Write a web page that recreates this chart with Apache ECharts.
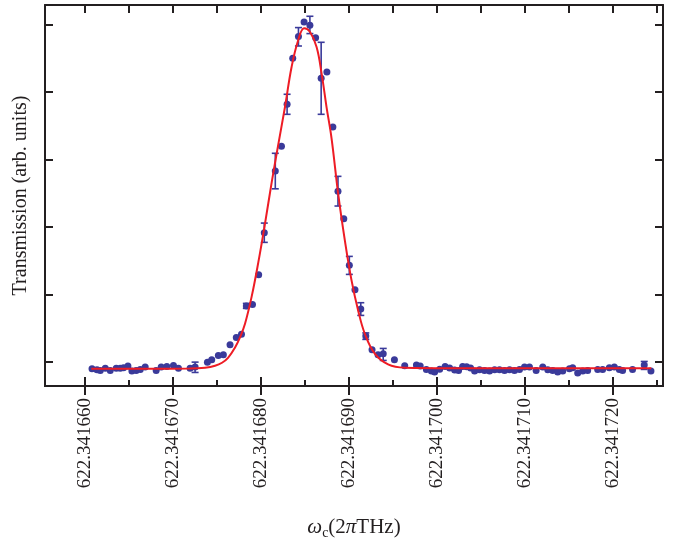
<!DOCTYPE html>
<html lang="en">
<head>
<meta charset="utf-8">
<script src="https://cdn.jsdelivr.net/npm/echarts@6.0.0/dist/echarts.min.js"></script>
<style>
  html, body { margin: 0; padding: 0; background: #fff; }
  #main { width: 674px; height: 548px; }
</style>
</head>
<body>
<div id="main"></div>
<script>
// x = digits after "622.341" (660 -> 622.341660), y = arb. units
var pointX = [660.84, 661.41, 661.78, 662.35, 662.91, 663.59, 664.05, 664.42, 664.92, 665.37,
    665.86, 666.32, 666.88, 668.13, 668.70, 669.34, 670.09, 670.66, 671.98, 672.55,
    673.95, 674.44, 675.19, 675.76, 676.52, 677.23, 677.82, 678.37, 679.07, 679.77,
    680.41, 681.66, 682.36, 683.00, 683.64, 684.29, 684.93, 685.59, 686.24, 686.87,
    687.52, 688.20, 688.78, 689.44, 690.07, 690.71, 691.37, 691.94, 692.65, 693.33,
    693.92, 695.19, 696.36, 697.69, 698.12, 698.82, 699.39, 699.76, 700.33, 700.95,
    701.46, 702.03, 702.48, 702.94, 703.39, 703.84, 704.30, 704.86, 705.43, 706.00,
    706.57, 707.13, 707.70, 708.27, 708.83, 709.40, 709.97, 710.53, 711.29, 712.04,
    712.61, 713.17, 713.74, 714.31, 715.07, 715.44, 716.01, 716.58, 717.14, 718.28,
    718.84, 719.60, 720.17, 720.74, 721.11, 722.24, 723.57, 724.33];
var pointY = [-0.104, -0.119, -0.129, -0.095, -0.129, -0.095, -0.095, -0.089, -0.065, -0.139,
    -0.129, -0.114, -0.080, -0.129, -0.080, -0.070, -0.055, -0.095, -0.095, -0.080,
    -0.006, 0.030, 0.093, 0.104, 0.252, 0.361, 0.409, 0.828, 0.847, 1.291,
    1.911, 2.828, 3.197, 3.818, 4.500, 4.822, 5.039, 4.990, 4.804, 4.203,
    4.295, 3.481, 2.527, 2.122, 1.429, 1.068, 0.783, 0.380, 0.178, 0.105,
    0.119, 0.030, -0.059, -0.047, -0.065, -0.114, -0.139, -0.154, -0.110, -0.070,
    -0.092, -0.122, -0.129, -0.070, -0.073, -0.092, -0.136, -0.119, -0.129, -0.139,
    -0.119, -0.119, -0.129, -0.119, -0.129, -0.114, -0.080, -0.080, -0.129, -0.080,
    -0.119, -0.129, -0.154, -0.139, -0.104, -0.089, -0.169, -0.139, -0.129, -0.114,
    -0.114, -0.089, -0.080, -0.114, -0.129, -0.114, -0.047, -0.139];

// error bars
var errX    = [672.55, 678.37, 680.41, 681.66, 683.00, 684.29, 685.59, 686.87, 688.78, 690.07, 691.37, 691.94, 693.92, 723.57];
var errLow  = [-0.159, 0.791, 1.770, 2.564, 3.669, 4.682, 4.866, 3.669, 2.309, 1.295, 0.687, 0.331, 0.019, -0.114];
var errHigh = [-0.006, 0.865, 2.056, 3.091, 3.966, 4.955, 5.123, 4.737, 2.749, 1.562, 0.875, 0.427, 0.197, 0.004];

// fitted curve
var fitX = [660.76, 667.45, 671.98, 673.68, 674.82, 675.61, 676.29, 677.09, 677.65, 678.22,
    678.98, 679.73, 680.49, 681.25, 681.96, 682.76, 683.51, 684.26, 684.94, 685.59,
    686.35, 686.92, 687.48, 688.05, 688.80, 689.56, 690.32, 691.07, 691.83, 692.96,
    694.47, 696.36, 701.46, 724.37];
var fitY = [-0.104, -0.104, -0.101, -0.088, -0.059, -0.015, 0.056, 0.212, 0.361, 0.564,
    0.969, 1.473, 2.047, 2.660, 3.194, 3.777, 4.371, 4.767, 4.945, 4.893,
    4.668, 4.273, 3.777, 3.313, 2.493, 1.800, 1.206, 0.761, 0.415, 0.119,
    -0.040, -0.089, -0.096, -0.096];

var xMajor = [660, 670, 680, 690, 700, 710, 720];
var xMinor = [665, 675, 685, 695, 705, 715, 725];
var xAll = [660, 665, 670, 675, 680, 685, 690, 695, 700, 705, 710, 715, 720, 725];
var yTicks = [0, 1, 2, 3, 4, 5];

var axisColor = '#231f20';
var dotColor = '#3a3a9a';
var serif = 'Liberation Serif';

function zip(a, b) {
    var out = [];
    for (var i = 0; i < a.length; i++) out.push([a[i], b[i]]);
    return out;
}
var errData = [];
for (var i = 0; i < errX.length; i++) errData.push([errX[i], errLow[i], errHigh[i]]);

function xAxisBase(extra) {
    var a = {
        type: 'value', min: 655.5, max: 725.7, position: 'bottom',
        splitLine: { show: false },
        axisLine: { show: true, onZero: false, lineStyle: { color: axisColor, width: 2 } },
        axisLabel: { show: false },
        axisTick: { show: false }
    };
    for (var k in extra) a[k] = extra[k];
    return a;
}
function yAxisBase(extra) {
    var a = {
        type: 'value', min: -0.36, max: 5.29,
        splitLine: { show: false },
        axisLine: { show: true, onZero: false, lineStyle: { color: axisColor, width: 2 } },
        axisLabel: { show: false },
        axisTick: { show: true, inside: true, length: 8, customValues: yTicks,
            lineStyle: { color: axisColor, width: 2 } }
    };
    for (var k in extra) a[k] = extra[k];
    return a;
}

function renderErr(params, api) {
    var x = api.value(0);
    var p1 = api.coord([x, api.value(2)]);
    var p2 = api.coord([x, api.value(1)]);
    var w = 3.5;
    var st = { stroke: dotColor, lineWidth: 1.6 };
    return {
        type: 'group',
        children: [
            { type: 'line', shape: { x1: p1[0], y1: p1[1], x2: p2[0], y2: p2[1] }, style: st },
            { type: 'line', shape: { x1: p1[0] - w, y1: p1[1], x2: p1[0] + w, y2: p1[1] }, style: st },
            { type: 'line', shape: { x1: p2[0] - w, y1: p2[1], x2: p2[0] + w, y2: p2[1] }, style: st }
        ]
    };
}

var myChart = echarts.init(document.getElementById('main'));
myChart.setOption({
    animation: false,
    backgroundColor: '#fff',
    grid: { left: 45, top: 5, width: 618, height: 381, containLabel: false, outerBoundsMode: 'none' },
    xAxis: [
        xAxisBase({
            axisTick: { show: true, inside: false, length: 9, customValues: xMajor,
                lineStyle: { color: axisColor, width: 2 } },
            axisLabel: { show: true, customValues: xMajor, rotate: 90, margin: 12,
                fontFamily: serif, fontSize: 19, color: axisColor,
                formatter: function (v) { return '622.341' + v.toFixed(0); } },
            name: '{w|ω}{s|c}{n|(2}{p|π}{n|THz)}',
            nameLocation: 'middle', nameGap: 128,
            nameTextStyle: {
                rich: {
                    w: { fontFamily: serif, fontStyle: 'italic', fontSize: 21, color: axisColor, lineHeight: 26 },
                    s: { fontFamily: serif, fontSize: 14, color: axisColor, verticalAlign: 'bottom', lineHeight: 26 },
                    n: { fontFamily: serif, fontSize: 21, color: axisColor, lineHeight: 26 },
                    p: { fontFamily: serif, fontStyle: 'italic', fontSize: 21, color: axisColor, lineHeight: 26 }
                }
            }
        }),
        xAxisBase({
            axisTick: { show: true, inside: true, length: 9, customValues: xMajor,
                lineStyle: { color: axisColor, width: 2 } }
        }),
        xAxisBase({
            axisTick: { show: true, inside: true, length: 6, customValues: xMinor,
                lineStyle: { color: axisColor, width: 2 } }
        }),
        xAxisBase({
            position: 'top',
            axisTick: { show: true, inside: true, length: 8, customValues: xAll,
                lineStyle: { color: axisColor, width: 2 } }
        })
    ],
    yAxis: [
        yAxisBase({
            position: 'left',
            name: 'Transmission (arb. units)',
            nameLocation: 'middle', nameGap: 14,
            nameTextStyle: { fontFamily: serif, fontSize: 20, color: axisColor }
        }),
        yAxisBase({ position: 'right' })
    ],
    series: [
        {
            type: 'custom',
            renderItem: renderErr,
            data: errData,
            encode: { x: 0, y: [1, 2] },
            z: 2
        },
        {
            type: 'scatter',
            data: zip(pointX, pointY),
            symbol: 'circle',
            symbolSize: 7,
            itemStyle: { color: dotColor, opacity: 1 },
            z: 3
        },
        {
            type: 'line',
            data: zip(fitX, fitY),
            smooth: 0.4,
            showSymbol: false,
            lineStyle: { color: '#ee1c25', width: 2 },
            z: 4
        }
    ]
});
</script>
</body>
</html>
